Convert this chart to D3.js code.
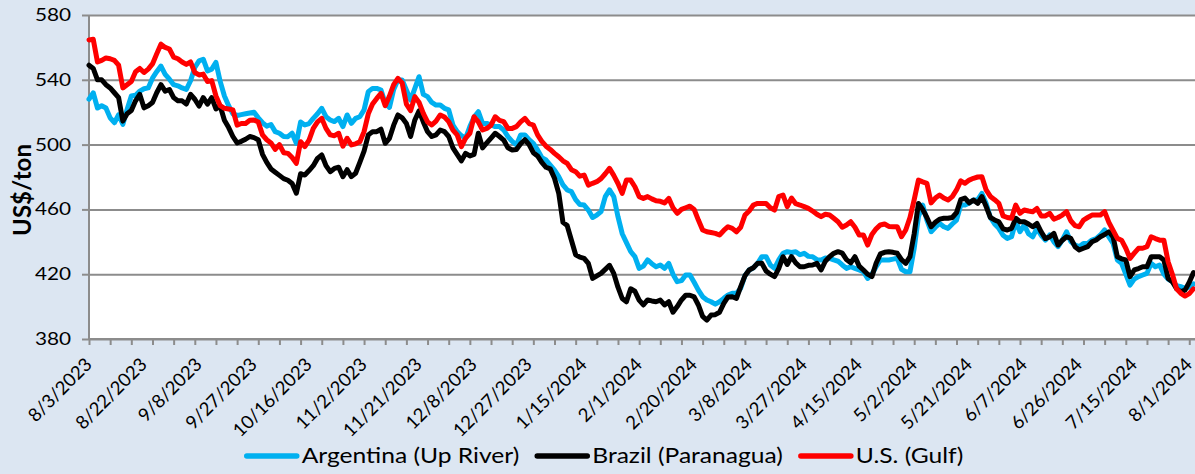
<!DOCTYPE html>
<html><head><meta charset="utf-8">
<script src="https://cdn.jsdelivr.net/npm/d3@7"></script>
<style>
html,body{margin:0;padding:0;background:#dce6f2;}
svg{display:block;}
text{font-family:Lato,"Open Sans",sans-serif;fill:#000;}
</style></head>
<body><svg id="chart" width="1195" height="474"></svg>
<script>
// Categories: trading weekdays from 8/3/2023 to 8/2/2024
const startDate = new Date(2023, 7, 3);
const endDate = new Date(2024, 7, 3);
const dates = d3.timeDay.range(startDate, endDate).filter(d => d.getDay() !== 0 && d.getDay() !== 6);
const fmt = d3.timeFormat("%-m/%-d/%Y");
const categories = dates.map(fmt);

const tickLabels = ["8/3/2023","8/22/2023","9/8/2023","9/27/2023","10/16/2023","11/2/2023","11/21/2023","12/8/2023","12/27/2023","1/15/2024","2/1/2024","2/20/2024","3/8/2024","3/27/2024","4/15/2024","5/2/2024","5/21/2024","6/7/2024","6/26/2024","7/15/2024","8/1/2024"];
const yTicks = [380, 420, 460, 500, 540, 580];
const seriesNames = ["Argentina (Up River)", "Brazil (Paranagua)", "U.S. (Gulf)"];
const seriesColors = ["#00b0f0", "#000000", "#ff0000"];

const argentina = [528,532,522.6,524,522.6,516.5,513.5,518.4,512.5,521.7,
530,530.5,533,534.5,535,541,545,548.5,543.4,540.4,
537,536.3,535,534,539.4,547.6,551.7,552.7,545.5,546.6,
550.7,539,530,524,519,518,518.5,519,519.5,520,
516.5,513.5,511.4,512.4,508,507,505,504.9,507,500.8,
514,512.1,513,516.2,519,522.4,517.2,515.2,514.2,516.2,
511.1,518.3,513.1,516.2,517.2,521.4,532.7,534.7,534.7,533.7,
525.5,523,534,539.9,539.9,533.7,527.5,534.7,541.9,531,
529.6,526,524.4,524.4,522.4,521.4,512.1,508,505.5,504,
511.1,517,520.3,513.1,513.1,512.1,511.1,511.1,509,504.9,
502,499.8,506,506,503,500.8,496.7,492,490.5,487.4,
484.3,480.2,475.1,472,471,466,463,462.7,459.6,455,
456.5,458.6,467.9,472,467.9,455.5,445,439.5,434,430.8,
423.6,425,428.8,426.5,424.6,425.7,423.6,426.7,420,415.4,
416,419.5,419.5,415,410.2,406.1,404.1,403,401.5,403,
405.1,407.1,408.2,408.2,411.3,419,422.6,424,426.7,430.8,
430.8,425.7,423.6,428.8,432.9,433.9,433.4,433.9,432,432.9,
431,430.8,429,428.8,430,429.8,428.8,428,425.7,423.6,
424.6,423.6,422.6,421.5,417.4,420,424.6,428.8,428.8,428.8,
429.3,429.8,423,421.5,421.5,436,455.5,462.7,453.4,446.2,
449,451.4,449.3,448.3,451,453.4,462.7,462.7,464,465.8,
466,469.9,463.7,455,451,448.3,444,442.1,443.1,452.4,
446.2,450.4,445,443.1,448.3,444,441.1,444.2,440,437,
441,446.2,440.1,438,437,439,439,441.1,442,444.2,
447.3,443,439,428.8,426.7,420,413.3,417,418.5,419.5,
420.5,426.7,424.6,425.7,420,417,415.4,413,412.3,411.3,
412,414];

const brazil = [549,547,540,540,537,535,532,529,514.5,519,
521,527,531,522.7,524,526,532,537,533,534,
529,527,527,525,531,528,523.8,529,525,529,
522,523.8,515,510.5,505,501,502,503.3,505,504.3,
503,494,489,485,483,481,479,478,476,470,
482,481.2,484,487,491.5,493.6,487,483.3,485.3,486,
480.2,484.5,480.2,482.3,489,496,506,508,508,509.5,
500.8,503.9,512,518.3,516.5,513,505,515.2,520.8,514,
508,505,506,509,508,505,498,494,490,494.6,
493,494,507,498,501,504,507,505,502.8,498,
496.7,497,500.5,503,500,495,493,489,486,485,
479.2,470,452,450,441,432,430.5,429.8,426.7,417.4,
419,420.5,423,425.5,420.5,412,405,403,411,409.5,
404,401,404.1,403.5,403,404,401,403,396.5,400,
404.1,407,407,406,401,394,391.7,394.8,395,396.5,
402,406,406.1,405.1,412.3,419,422.6,424,426.7,426.7,
422,420,418.5,423.6,430.8,426,430.8,427,424.6,424.6,
425.5,425.7,426.7,422.6,428,430.8,432.9,433.9,433,429,
427,430.8,425,422.6,420,418.5,426.7,432.5,433.5,433.9,
433.5,432.9,429,426.7,430.8,445,463.7,460,455,449.3,
452,454,454.5,454.5,455,458,466,467,464,465.8,
463.7,467.9,461.7,455,453.5,452.4,448,447.3,448.3,454.5,
452.4,452.4,451,449.3,451.4,446.2,442,443,445.2,438,
441,443.1,442.1,437,435,436,437,440,441.1,443.1,
444.5,446.2,443.1,430.8,429.5,428.8,418.5,422.6,423.5,424.6,
424.6,430.8,430.8,430.8,428.8,417.4,415.4,411,409.2,410.2,
415,421];

const usGulf = [564.6,565,551,552,553.5,553,552,549,535,537,
539,545,547,544.5,546.6,549.8,556,562,560,559,
554,553,551,549.5,551,544.5,543,543.5,539,539.5,
530,524,522.4,522,521.4,512,513,513,515,515.2,
514,506,503,501,497,500,495,494.6,492,488.4,
501.8,498.7,502.8,510,514,516.2,510,506,505.5,507,
499,503.9,499.8,500.5,501.8,508,519,525,528.5,531.6,
524,530,537,540.9,538,525,521,529.6,526,519.3,
514,512.1,514.5,518.3,517,514.2,509,506,498.7,504,
507,517.2,514,509,510,512,517.2,515,514.2,510,
510,511.1,514,516.2,513,512.1,506,502,499,497,
494.6,492.5,490,488.4,484.5,483.3,480.5,481.2,475,476.1,
477.1,479,482,485.3,481,476,469.9,478.1,478.1,474,
467.9,466.8,467.9,466.5,465.3,465,464,466.8,461,457.6,
460,461,462,460,453.4,447.3,446.2,445.7,445.2,444.2,
447,449.3,448.3,446.2,449,456.5,459,462.7,463.7,463.7,
463.7,461,459.6,467.9,468.9,461.7,467,463.5,462.7,461.7,
460.6,459,457,455.5,457,456.5,454.5,452.4,449,450.4,
452.4,449,444.2,444.2,438,444.5,448,450.4,451,449.5,
449.3,449.3,443.1,447.3,455,466,478.1,477,476.1,464,
467,468.9,467,465.8,467.9,472,477.6,476.1,478.1,479.2,
480,480.2,472,468,466,463.7,456,455,454.5,462.7,
457.6,459.6,459,458.6,460.6,456,456,457.6,454,455,
456.5,458.6,453,450,449.3,453.4,455,456.5,456.5,456.5,
458.6,452,447,442.1,441,436,429.8,433,436,436,
437,443.1,442,441,441,427.7,420,411,408.2,406.5,
408,411];

const seriesValues = [argentina, brazil, usGulf];

// ---- layout ----
const W = 1195, H = 474;
const plotL = 89, plotR = 1195, plotT = 15, plotB = 339;
const svg = d3.select("#chart");

svg.append("rect").attr("width", W).attr("height", H).attr("fill", "#dce6f2");
svg.append("rect").attr("x", plotL).attr("y", plotT).attr("width", plotR - plotL).attr("height", plotB - plotT).attr("fill", "#ffffff");

const x = d3.scalePoint().domain(categories).range([plotL, 1193.5]);
const y = d3.scaleLinear().domain([380, 580]).range([plotB, plotT]);

const gridColor = "#8c8c8c";

// gridlines
const grid = svg.append("g").attr("transform", `translate(${plotL},0)`)
  .call(d3.axisLeft(y).tickValues(yTicks).tickSize(-(plotR - plotL)).tickFormat(""));
grid.select(".domain").remove();
grid.selectAll("line").attr("stroke", gridColor).attr("stroke-width", 2);

// y axis
const yAxis = svg.append("g").attr("transform", `translate(${plotL},0)`)
  .call(d3.axisLeft(y).tickValues(yTicks).tickSize(7).tickPadding(11));
yAxis.select(".domain").attr("stroke", gridColor).attr("stroke-width", 2).attr("d", `M0,${plotT}V${plotB}`);
yAxis.selectAll("line").attr("stroke", gridColor).attr("stroke-width", 2);
yAxis.selectAll("text")
  .style("font-family", "Lato").style("font-size", "17px").attr("fill", "#000")
  .attr("x", 0).attr("text-anchor", "end")
  .attr("transform", "translate(-18,0) scale(1.22,1)");

// x axis ticks (every 5 categories)
const xTickAxis = svg.append("g").attr("transform", `translate(0,${plotB})`)
  .call(d3.axisBottom(x).tickValues(categories.filter((d, i) => i % 5 === 0)).tickSize(6).tickFormat(""));
xTickAxis.select(".domain").attr("stroke", gridColor).attr("stroke-width", 2).attr("d", `M${plotL},0H${plotR}`);
xTickAxis.selectAll("line").attr("stroke", gridColor).attr("stroke-width", 2);

// x axis labels
const xLab = svg.append("g").attr("transform", `translate(0,${plotB})`)
  .call(d3.axisBottom(x).tickValues(tickLabels).tickSize(0).tickPadding(0));
xLab.select(".domain").remove();
xLab.selectAll("text")
  .style("font-family", "Lato").style("font-size", "18.5px").attr("fill", "#000")
  .attr("text-anchor", "end")
  .attr("x", 0).attr("y", 0).attr("dy", "0.35em")
  .attr("transform", "translate(-1,22) rotate(-45)");

// y axis title
svg.append("text")
  .attr("transform", "translate(31,190) rotate(-90)")
  .attr("text-anchor", "middle")
  .style("font-family", "Lato").style("font-weight", "bold").style("font-size", "24px")
  .text("US$/ton");

// lines
const line = d3.line().x((d, i) => x(categories[i])).y(d => y(d));
seriesValues.forEach((vals, k) => {
  svg.append("path").datum(vals)
    .attr("fill", "none")
    .attr("stroke", seriesColors[k])
    .attr("stroke-width", 5)
    .attr("stroke-linejoin", "round")
    .attr("stroke-linecap", "round")
    .attr("d", line);
});
svg.append("rect").attr("x", plotR).attr("y", 0).attr("width", 10).attr("height", H).attr("fill", "#dce6f2");

// legend
const legScale = 1.2;
const legend = svg.append("g");
let cx = 0;
seriesNames.forEach((name, k) => {
  const g = legend.append("g");
  g.append("line").attr("x1", cx + 3).attr("x2", cx + 53).attr("y1", 0).attr("y2", 0)
    .attr("stroke", seriesColors[k]).attr("stroke-width", 5.5).attr("stroke-linecap", "round");
  const t = g.append("text").attr("x", 0).attr("y", 0).attr("dy", "0.35em")
    .attr("transform", `translate(${cx + 58},0) scale(${legScale},1)`)
    .style("font-family", "Lato").style("font-size", "20.5px").text(name);
  cx = cx + 58 + t.node().getComputedTextLength() * legScale + 15;
});
const legW = cx - 15;
legend.attr("transform", `translate(${603.5 - legW / 2},456)`);
</script></body></html>
